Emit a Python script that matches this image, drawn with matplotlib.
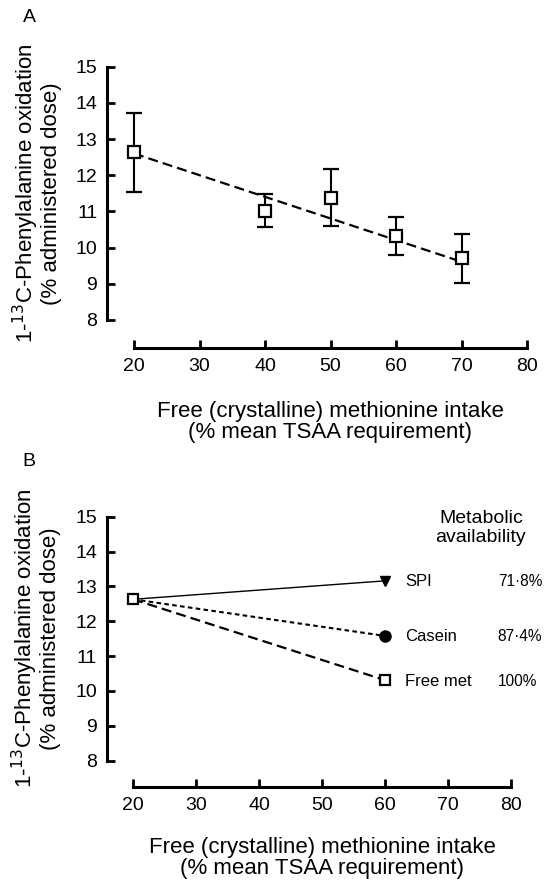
import numpy as np
import matplotlib
matplotlib.use('Agg')
import matplotlib.pyplot as plt

plt.rcParams['font.family'] = ['Liberation Sans', 'DejaVu Sans']

# Panel A: free methionine intake vs phenylalanine oxidation
intake_a = [20, 40, 50, 60, 70]
oxid_a = [12.65, 11.02, 11.38, 10.33, 9.70]
err_lo = [1.12, 0.46, 0.78, 0.52, 0.67]
err_hi = [1.07, 0.45, 0.79, 0.51, 0.69]
fit_x = [20, 70]
fit_y = [12.60, 9.61]

# Panel B: comparison at 60 %
start_x, start_y = 20, 12.63
end_x = 60
sources = ['SPI', 'Casein', 'Free met']
oxid_b = [13.16, 11.58, 10.31]
avail = ['71·8%', '87·4%', '100%']

ylab = '1-$^{13}$C-Phenylalanine oxidation\n(% administered dose)'
xlab = 'Free (crystalline) methionine intake\n(% mean TSAA requirement)'

W, H = 545, 881
fig = plt.figure(figsize=(W/100, H/100), dpi=100)

def setup(ax, loff, boff, xpad):
    ax.set_xlim(20, 80)
    ax.set_ylim(8, 15)
    for s in ['top', 'right']:
        ax.spines[s].set_visible(False)
    ax.spines['left'].set_position(('outward', loff))
    ax.spines['bottom'].set_position(('outward', boff))
    ax.spines['left'].set_linewidth(2.2)
    ax.spines['bottom'].set_linewidth(2.2)
    ax.set_xticks(np.arange(20, 81, 10))
    ax.set_yticks(np.arange(8, 16, 1))
    ax.tick_params(axis='both', direction='in', length=5.5, width=2.0, labelsize=14)
    ax.tick_params(axis='y', pad=7)
    ax.tick_params(axis='x', pad=7)
    ax.set_ylabel(ylab, fontsize=16, labelpad=10, linespacing=1.0)
    ax.set_xlabel(xlab, fontsize=16, labelpad=xpad, linespacing=1.0)

# A
axA = fig.add_axes([134/W, 1-320/H, 393/W, 253.3/H])
setup(axA, 19.4, 20.2, 19)
axA.plot(fit_x, fit_y, 'k--', lw=1.6, dashes=(4.5, 2.3))
axA.errorbar(intake_a, oxid_a, yerr=[err_lo, err_hi], fmt='s', color='k',
             mfc='white', mec='k', mew=1.6, ms=8.5, ecolor='k', elinewidth=1.5,
             capsize=5.6, capthick=1.5, clip_on=False, zorder=3)
fig.text(29/W, 1-17/H, 'A', fontsize=14, va='center', ha='center')

# B
axB = fig.add_axes([133/W, 1-760.7/H, 378/W, 244/H])
setup(axB, 19.0, 19.2, 16.5)
axB.plot([start_x, end_x], [start_y, oxid_b[0]], 'k-', lw=1.0)
axB.plot([start_x, end_x], [start_y, oxid_b[1]], 'k--', lw=1.5, dashes=(2.2, 1.6))
axB.plot([start_x, end_x], [start_y, oxid_b[2]], 'k--', lw=1.6, dashes=(4.5, 2.3))
axB.plot([end_x], [oxid_b[0]], 'kv', ms=7, clip_on=False, zorder=3)
axB.plot([end_x], [oxid_b[1]], 'ko', ms=8, clip_on=False, zorder=3)
axB.plot([end_x], [oxid_b[2]], 's', mfc='white', mec='k', mew=1.6, ms=7.5, clip_on=False, zorder=3)
axB.plot([start_x], [start_y], 's', mfc='white', mec='k', mew=1.6, ms=7.5, clip_on=False, zorder=4)
for name, v, a in zip(sources, oxid_b, avail):
    axB.text(63.2, v - 0.03, name, fontsize=12, va='center', ha='left', clip_on=False)
    axB.text(77.9, v - 0.03, a, fontsize=11.2, va='center', ha='left', clip_on=False)
axB.text(75.2, 14.68, 'Metabolic\navailability', fontsize=14, ha='center',
         va='center', linespacing=1.15, clip_on=False)
fig.text(29/W, 1-461.7/H, 'B', fontsize=14, va='center', ha='center')

fig.savefig('out.png', dpi=100)
